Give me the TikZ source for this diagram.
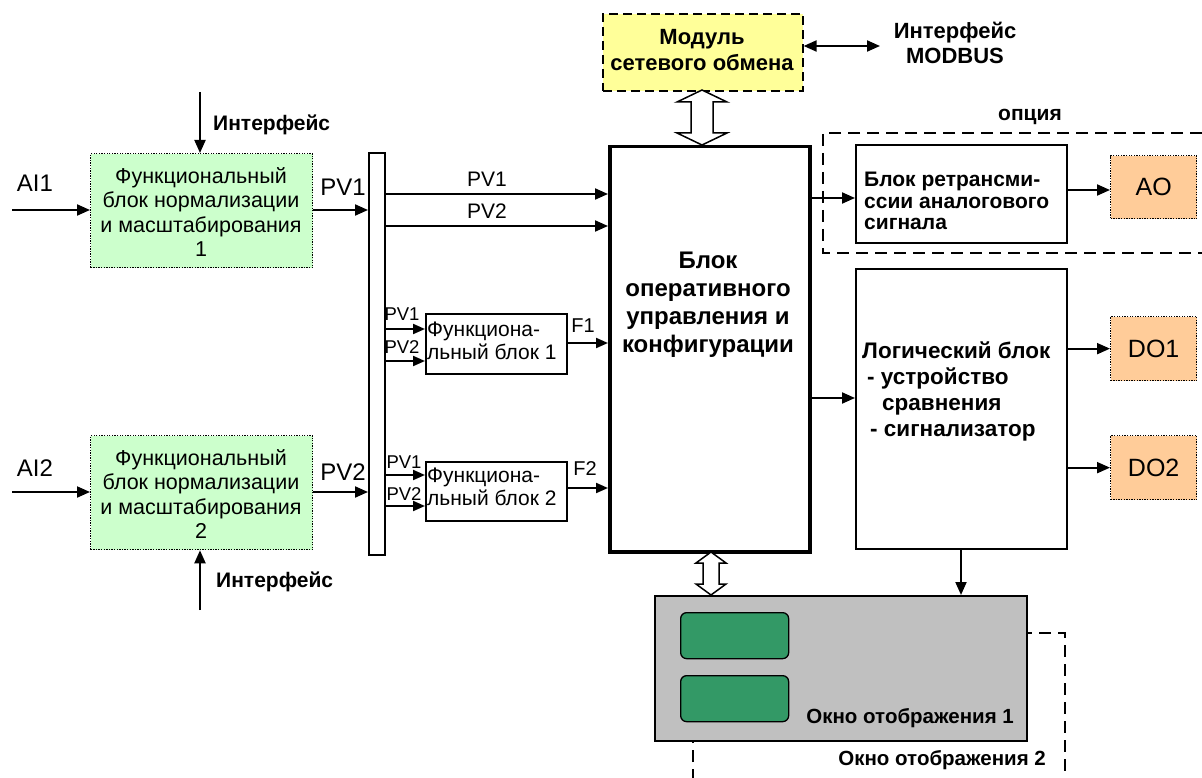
\documentclass[tikz,border=0pt]{standalone}
\usepackage{fontspec}
\setmainfont{Liberation Sans}
\usetikzlibrary{arrows.meta,calc}
\definecolor{gfill}{HTML}{CCFFCC}
\definecolor{yfill}{HTML}{FFFF99}
\definecolor{ofill}{HTML}{FFCC99}
\definecolor{greyfill}{HTML}{C0C0C0}
\definecolor{dgreen}{HTML}{339966}
\newcommand\fs[2]{\fontsize{#1}{#2}\selectfont}
\newcommand\hollowarrow[6]{% x, ytop, ybot, shaft half, head half, head length
  \draw[line width=1.5pt,fill=white,line join=miter]
    (#1,#2) -- ++(#5,#6) -- (#1+#4,#2+#6) -- (#1+#4,#3-#6) -- (#1+#5,#3-#6) -- (#1,#3)
    -- (#1-#5,#3-#6) -- (#1-#4,#3-#6) -- (#1-#4,#2+#6) -- (#1-#5,#2+#6) -- cycle;}
\begin{document}
\begin{tikzpicture}[x=1pt,y=-1pt,
  conn/.style={line width=2pt,-{Triangle[length=13pt,width=11pt]}},
  sconn/.style={line width=2pt,-{Triangle[length=12pt,width=10pt]}},
  dblconn/.style={line width=2pt,{Triangle[length=13pt,width=11pt]}-{Triangle[length=13pt,width=11pt]}},
  plainbox/.style={draw,line width=1.8pt,inner sep=0pt,anchor=north west},
  mainbox/.style={draw,line width=3.5pt,inner sep=0pt,anchor=north west},
  greenbox/.style={draw,fill=gfill,line width=1.3pt,dash pattern=on 1.3pt off 1.3pt,inner sep=0pt,anchor=north west},
  outbox/.style={draw,fill=ofill,line width=1.3pt,dash pattern=on 1.3pt off 1.3pt,inner sep=0pt,anchor=north west},
  dashframe/.style={line width=1.6pt,dash pattern=on 12pt off 7pt},
  lbl/.style={inner sep=0pt},
]
\useasboundingbox (0,0) rectangle (1202,778);

% ---------- option frame ----------
\draw[dashframe] (1202,133) -- (823,133) -- (823,253) -- (1202,253);
\node[lbl,font=\bfseries\fs{21}{24}] (opt) at (1030,117) {опция};

% ---------- display window 2 frame (behind) ----------
\draw[dashframe] (693,800) -- (693,633) -- (1065,633) -- (1065,800);

% ---------- boxes ----------
\node[greenbox,minimum width=222,minimum height=114] (g1) at (90,153) {};
\node[lbl,align=center,font=\fs{21.5}{24.3}] at (201,212) {Функциональный\\блок нормализации\\и масштабирования\\1};
\node[greenbox,minimum width=222,minimum height=114] (g2) at (90,435) {};
\node[lbl,align=center,font=\fs{21.5}{24.3}] at (201,494) {Функциональный\\блок нормализации\\и масштабирования\\2};

\node[draw,line width=1.8pt,fill=white,inner sep=0pt,anchor=north west,minimum width=16,minimum height=402] (bus) at (368,152) {};

\node[plainbox,minimum width=141,minimum height=60] (f1) at (425,313) {};
\node[lbl,anchor=west,align=left,font=\fs{21}{23}] at (427,341) {Функциона-\\льный блок 1};
\node[plainbox,minimum width=141,minimum height=59] (f2) at (425,461) {};
\node[lbl,anchor=west,align=left,font=\fs{21}{23}] at (427,487) {Функциона-\\льный блок 2};

\node[mainbox,minimum width=200,minimum height=405] (main) at (608,145) {};
\node[lbl,align=center,font=\bfseries\fs{24}{28}] at (708,305) {Блок\\оперативного\\управления и\\конфигурации};

\node[draw,fill=yfill,line width=1.6pt,dash pattern=on 9pt off 5pt,inner sep=0pt,anchor=north west,minimum width=200,minimum height=77] (net) at (602,13) {};
\node[lbl,align=center,font=\bfseries\fs{22}{26}] at (702,50) {Модуль\\сетевого обмена};

\node[plainbox,minimum width=211,minimum height=98] (rt) at (855,144) {};
\node[lbl,anchor=west,align=left,font=\bfseries\fs{21}{21.8}] at (864,201) {Блок ретрансми-\\ссии аналогового\\сигнала};

\node[plainbox,minimum width=211,minimum height=280] (lg) at (855,268) {};
\node[lbl,anchor=west,align=left,font=\bfseries\fs{22.5}{26}] at (862,391) {Логический блок\\\hspace*{5pt}- устройство\\\hspace*{20pt}сравнения\\\hspace*{8pt}- сигнализатор};

\node[outbox,minimum width=86,minimum height=63] (ao) at (1110,155) {};
\node[lbl,font=\fs{25}{28}] at (ao.center) {AO};
\node[outbox,minimum width=86,minimum height=64] (do1) at (1110,316) {};
\node[lbl,font=\fs{25}{28}] at (do1.center) {DO1};
\node[outbox,minimum width=86,minimum height=64] (do2) at (1110,435) {};
\node[lbl,font=\fs{25}{28}] at (do2.center) {DO2};

% display window 1
\node[draw,fill=greyfill,line width=1.8pt,inner sep=0pt,anchor=north west,minimum width=372,minimum height=145] (disp) at (654,595) {};
\node[draw,fill=dgreen,line width=1.3pt,rounded corners=6pt,inner sep=0pt,anchor=north west,minimum width=108,minimum height=46] (s1) at (680,612) {};
\node[draw,fill=dgreen,line width=1.3pt,rounded corners=6pt,inner sep=0pt,anchor=north west,minimum width=108,minimum height=46] (s2) at (680,675) {};
\node[lbl,anchor=east,font=\bfseries\fs{20.5}{22}] (w1) at (1014,718) {Окно отображения 1};
\node[lbl,anchor=east,font=\bfseries\fs{20.5}{22}] (w2) at (1046,760) {Окно отображения 2};

% ---------- top: network module ----------
\coordinate (modbus) at (880,46);
\draw[dblconn] (net.east |- modbus) -- (modbus);
\node[lbl,align=center,font=\bfseries\fs{22}{25.5}] (mb) at (955,43) {Интерфейс\\MODBUS};
\hollowarrow{702}{90}{145}{11}{25}{12}
\hollowarrow{711}{552}{595}{8}{15}{11}

% ---------- left inputs ----------
\coordinate (ai1) at (12,210);
\coordinate (ai2) at (12,492);
\draw[conn] (ai1) -- (g1.west |- ai1);
\draw[conn] (ai2) -- (g2.west |- ai2);
\node[lbl,font=\fs{24}{26}] at (35,183) {AI1};
\node[lbl,font=\fs{24}{26}] at (35,468) {AI2};

\coordinate (if1) at (200,92);
\coordinate (if2) at (200,610);
\draw[conn] (if1) -- (if1 |- g1.north);
\draw[conn] (if2) -- (if2 |- g2.south);
\node[lbl,anchor=west,font=\bfseries\fs{21}{24}] at (213,125) {Интерфейс};
\node[lbl,anchor=west,font=\bfseries\fs{21}{24}] at (216,582) {Интерфейс};

\draw[conn] (g1.east |- ai1) -- (bus.west |- ai1);
\draw[conn] (g2.east |- ai2) -- (bus.west |- ai2);
\node[lbl,font=\fs{24}{26}] at (343,187) {PV1};
\node[lbl,font=\fs{24}{26}] at (343,472) {PV2};

% ---------- bus to main ----------
\draw[conn] (bus.east |- 0,194) -- (main.west |- 0,194);
\draw[conn] (bus.east |- 0,226) -- (main.west |- 0,226);
\node[lbl,font=\fs{21}{24}] at (487,179) {PV1};
\node[lbl,font=\fs{21}{24}] at (487,211) {PV2};

% ---------- functional blocks ----------
\draw[sconn] (bus.east |- 0,329) -- (f1.west |- 0,329);
\draw[sconn] (bus.east |- 0,361) -- (f1.west |- 0,361);
\node[lbl,font=\fs{18.5}{20}] at (402,314) {PV1};
\node[lbl,font=\fs{18.5}{20}] at (402,347) {PV2};
\draw[sconn] (f1.east |- 0,343) -- (main.west |- 0,343);
\node[lbl,font=\fs{20}{22}] at (583,326) {F1};

\draw[sconn] (bus.east |- 0,475) -- (f2.west |- 0,475);
\draw[sconn] (bus.east |- 0,506) -- (f2.west |- 0,506);
\node[lbl,font=\fs{18.5}{20}] at (404,462) {PV1};
\node[lbl,font=\fs{18.5}{20}] at (404,494) {PV2};
\draw[sconn] (f2.east |- 0,488) -- (main.west |- 0,488);
\node[lbl,font=\fs{20}{22}] at (585,469) {F2};

% ---------- right side ----------
\draw[conn] (main.east |- 0,198) -- (rt.west |- 0,198);
\draw[conn] (rt.east |- 0,190) -- (ao.west |- 0,190);
\draw[conn] (main.east |- 0,398) -- (lg.west |- 0,398);
\draw[conn] (lg.east |- do1.west) -- (do1.west);
\draw[conn] (lg.east |- do2.west) -- (do2.west);
\draw[conn] (lg.south -| 961,0) -- (disp.north -| 961,0);
\end{tikzpicture}
\end{document}
